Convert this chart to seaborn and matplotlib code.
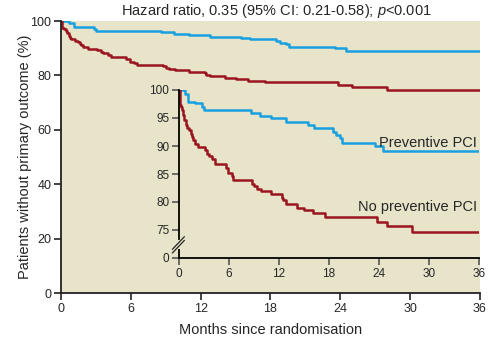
import numpy as np
import pandas as pd
import matplotlib
matplotlib.use("Agg")
import matplotlib.pyplot as plt
import seaborn as sns

# ---- data ----
prev_t = [0, 0.7, 1.1, 1.9, 2.8, 3.0, 8.6, 9.7, 11.0, 12.8, 15.5, 16.2, 18.5, 18.8,
          19.3, 19.6, 23.5, 24.5, 36]
prev_v = [100, 99.3, 97.9, 97.7, 97.0, 96.4, 95.9, 95.3, 95.0, 94.3, 93.7, 93.2, 92.5,
          91.9, 91.4, 90.5, 90.0, 89.1, 89.1]
nop_t = [0, 0.1, 0.25, 0.4, 0.5, 0.65, 0.8, 0.9, 1.2, 1.45, 1.6, 1.7, 1.9, 2.3, 3.1,
         3.4, 3.6, 4.0, 4.3, 5.6, 5.9, 6.3, 6.5, 8.8, 9.0, 9.3, 9.8, 11.0, 12.4, 12.5,
         12.8, 14.1, 15.0, 16.1, 17.5, 23.8, 25.0, 28.0, 36]
nop_v = [100, 97.3, 97.0, 96.4, 95.5, 94.6, 93.7, 93.2, 92.8, 92.1, 91.6, 91.0, 90.3,
         89.8, 89.2, 88.5, 88.2, 87.6, 86.7, 86.0, 85.1, 84.6, 84.0, 83.3, 82.8, 82.4,
         81.9, 81.4, 80.8, 80.3, 79.7, 79.0, 78.5, 78.0, 77.4, 76.5, 75.8, 74.7, 74.7]
series_names = ["Preventive PCI", "No preventive PCI"]
x_ticks = [0, 6, 12, 18, 24, 30, 36]
main_y_ticks = [0, 20, 40, 60, 80, 100]
inset_y_ticks = [70, 75, 80, 85, 90, 95, 100]
inset_y_labels = ["0", "75", "80", "85", "90", "95", "100"]

df = pd.concat([
    pd.DataFrame({"t": prev_t, "v": prev_v, "group": series_names[0]}),
    pd.DataFrame({"t": nop_t, "v": nop_v, "group": series_names[1]}),
], ignore_index=True)

BG = "#E8E4C9"
BLUE = "#18A0E0"
RED = "#9A1520"
palette = {series_names[0]: BLUE, series_names[1]: RED}

sns.set_theme(style="ticks")
plt.rcParams["font.family"] = ["Liberation Sans", "DejaVu Sans"]
plt.rcParams["mathtext.fontset"] = "custom"
plt.rcParams["mathtext.it"] = "Liberation Sans:italic"
plt.rcParams["mathtext.rm"] = "Liberation Sans"

fig = plt.figure(figsize=(5.02, 3.43), dpi=100)
fig.patch.set_facecolor("white")

ax = fig.add_axes([61 / 502, 1 - 293 / 343, (480 - 61) / 502, (293 - 21) / 343])
ax.set_facecolor(BG)
sns.lineplot(data=df, x="t", y="v", hue="group", palette=palette, estimator=None,
             sort=False, drawstyle="steps-post", linewidth=1.8, legend=False, ax=ax)
ax.set_xlim(0, 36)
ax.set_ylim(0, 100)
ax.set_xticks(x_ticks)
ax.set_yticks(main_y_ticks)
for s in ["top", "right"]:
    ax.spines[s].set_visible(False)
for s in ["left", "bottom"]:
    ax.spines[s].set_color("#222222")
    ax.spines[s].set_linewidth(1.3)
ax.tick_params(direction="out", length=5, width=1.2, color="#222222", labelsize=9, pad=2)
ax.set_xlabel("Months since randomisation", fontsize=10.5, labelpad=6)
ax.set_ylabel("Patients without primary outcome (%)", fontsize=10.5, labelpad=-1)

# inset
axi = fig.add_axes([179 / 502, 1 - 258 / 343, (479 - 179) / 502, (258 - 90) / 343])
axi.patch.set_alpha(0)
sns.lineplot(data=df, x="t", y="v", hue="group", palette=palette, estimator=None,
             sort=False, drawstyle="steps-post", linewidth=1.8, legend=False, ax=axi)
axi.set_xlim(0, 36)
axi.set_ylim(70, 100)
axi.set_xticks(x_ticks)
axi.set_yticks(inset_y_ticks)
axi.set_yticklabels(inset_y_labels)
axi.set_xlabel("")
axi.set_ylabel("")
for s in ["top", "right"]:
    axi.spines[s].set_visible(False)
axi.spines["bottom"].set_color("black")
axi.spines["bottom"].set_linewidth(1.3)
axi.spines["left"].set_color("black")
axi.spines["left"].set_linewidth(1.3)
axi.spines["left"].set_bounds(73.4, 100)
axi.plot([0, 0], [70, 71.6], color="black", lw=1.3, clip_on=False, solid_capstyle="butt")
axi.tick_params(direction="out", length=5, width=1.2, color="#555555", labelsize=8.5, pad=2)
# axis break marks
for dy in (0.0, 0.022):
    axi.plot([-0.022, 0.018], [0.03 + dy, 0.105 + dy], transform=axi.transAxes,
             color="#222222", lw=0.9, clip_on=False)

axi.text(35.8, 90.6, series_names[0], ha="right", va="center", fontsize=10.5)
axi.text(35.8, 79.1, series_names[1], ha="right", va="center", fontsize=10.5)

fig.text(276 / 502, 1 - 11 / 343, r"Hazard ratio, 0.35 (95% CI: 0.21-0.58); $\it{p}$<0.001",
         ha="center", va="center", fontsize=10.5)

fig.savefig("out.png", dpi=100, facecolor="white")
